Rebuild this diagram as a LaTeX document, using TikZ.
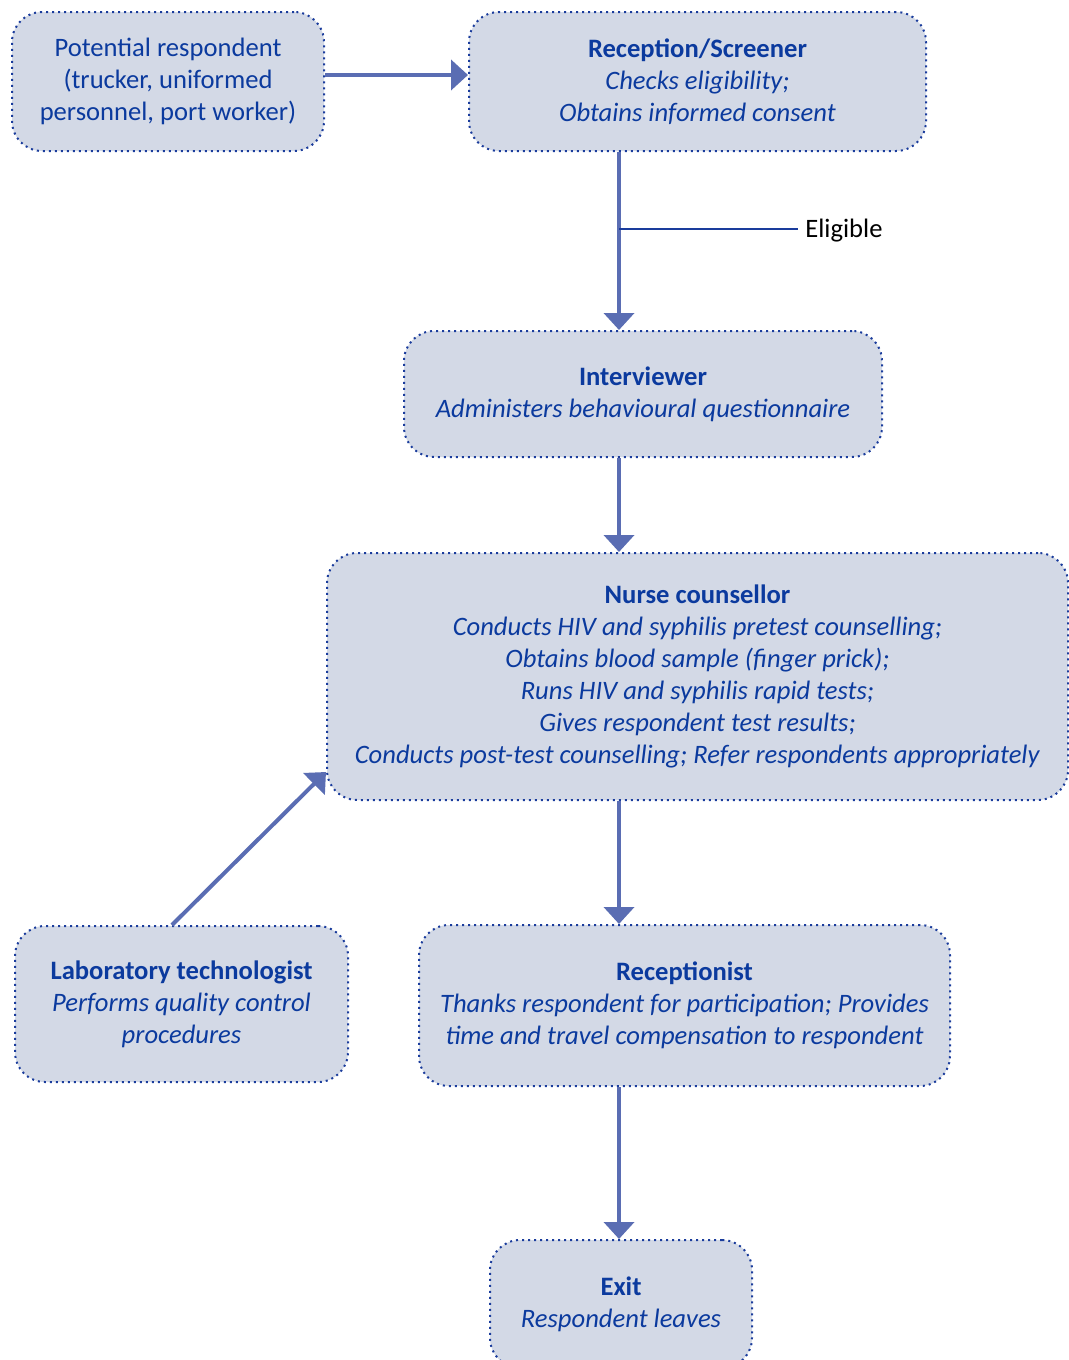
\documentclass[tikz,border=0pt]{standalone}
\usepackage{fontspec}
\setmainfont{Carlito}
\usetikzlibrary{arrows.meta}
\definecolor{boxfill}{HTML}{D3D9E6}
\definecolor{boxline}{HTML}{1A3C9C}
\definecolor{boxtext}{HTML}{0B3A9E}
\definecolor{flowline}{HTML}{5A6DB3}
\begin{document}
\begin{tikzpicture}[x=0.5pt,y=-0.5pt]
  \tikzset{stage/.style={draw=boxline, fill=boxfill, line width=1pt,
      dash pattern=on 1pt off 2pt, rounded corners=15pt, align=center,
      inner sep=0pt, text=boxtext, font=\fontsize{13.3}{16}\selectfont},
    flow/.style={draw=flowline, line width=2pt, -{Triangle[length=8.5pt,width=15pt]}},
    tick/.style={draw=boxline, line width=1pt}}
  \useasboundingbox (0,0) rectangle (1069,1360);
  \node[stage, minimum width=156pt, minimum height=69.5pt] (pot) at (168,81.5)
    {Potential respondent\\(trucker, uniformed\\personnel, port worker)};
  \node[stage, minimum width=228.5pt, minimum height=69.5pt] (rec) at (697.5,81.5)
    {\textbf{Reception/Screener}\\\textit{Checks eligibility;}\\\textit{Obtains informed consent}};
  \node[stage, minimum width=239pt, minimum height=63pt] (int) at (643,394)
    {\textbf{Interviewer}\\\textit{Administers behavioural questionnaire}};
  \node[stage, minimum width=370.5pt, minimum height=123.5pt] (nur) at (697.5,676.5)
    {\textbf{Nurse counsellor}\\\textit{Conducts HIV and syphilis pretest counselling;}\\
     \textit{Obtains blood sample (finger prick);}\\\textit{Runs HIV and syphilis rapid tests;}\\
     \textit{Gives respondent test results;}\\
     \textit{Conducts post-test counselling; Refer respondents appropriately}};
  \node[stage, minimum width=166.5pt, minimum height=78pt] (lab) at (181.5,1004)
    {\textbf{Laboratory technologist}\\\textit{Performs quality control}\\\textit{procedures}};
  \node[stage, minimum width=265.5pt, minimum height=80.5pt] (rcp) at (684.5,1005.5)
    {\textbf{Receptionist}\\\textit{Thanks respondent for participation; Provides}\\
     \textit{time and travel compensation to respondent}};
  \node[stage, minimum width=131pt, minimum height=64pt] (ext) at (621,1304)
    {\textbf{Exit}\\\textit{Respondent leaves}};
  \coordinate (spine) at (619,0);
  \coordinate (elig) at (619,229);
  \node[anchor=west, inner xsep=3.5pt, inner ysep=0pt, text=black,
    font=\fontsize{13.3}{16}\selectfont] (eltxt) at (798,231) {Eligible};
  \draw[flow] ([yshift=3.25pt]pot.east) -- ([yshift=3.25pt]rec.west);
  \draw[flow] (rec.south -| spine) -- (int.north -| spine);
  \draw[tick] (elig) -- (elig -| eltxt.west);
  \draw[flow] (int.south -| spine) -- (nur.north -| spine);
  \draw[flow] (nur.south -| spine) -- (rcp.north -| spine);
  \draw[flow] (rcp.south -| spine) -- (ext.north -| spine);
  \draw[flow] ([xshift=-4.75pt]lab.north) -- ([yshift=14.5pt]nur.south west);
\end{tikzpicture}
\end{document}
